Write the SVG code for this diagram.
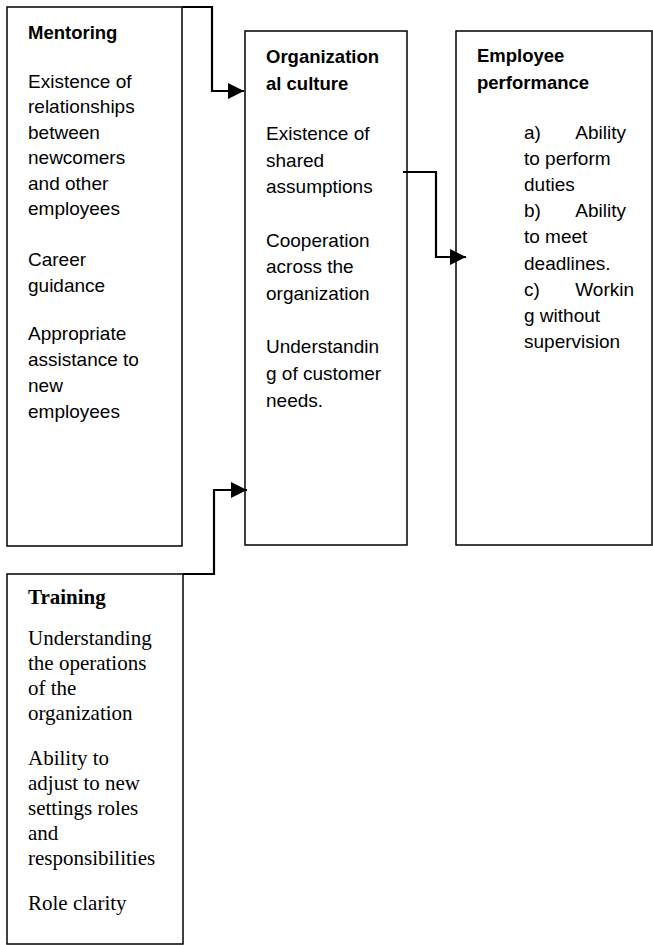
<svg xmlns="http://www.w3.org/2000/svg" width="653" height="945" viewBox="0 0 653 945">
<style>
.box{fill:#fff;stroke:#000;stroke-width:1.5}
.s{font-family:"Liberation Sans",Arial,sans-serif;font-size:19px;fill:#000}
.sb{font-family:"Liberation Sans",Arial,sans-serif;font-size:18.5px;font-weight:bold;fill:#000}
.t{font-family:"Liberation Serif","Times New Roman",serif;font-size:21px;fill:#000}
.tb{font-family:"Liberation Serif","Times New Roman",serif;font-size:21px;font-weight:bold;fill:#000}
.c{fill:none;stroke:#000;stroke-width:2.2}
</style>
<defs>
<marker id="ah" markerUnits="userSpaceOnUse" markerWidth="17" markerHeight="17" refX="16" refY="8" orient="auto">
<path d="M0,0 L16,8 L0,16 Z" fill="#000"/>
</marker>
</defs>
<g id="mentoring">
<rect class="box" x="7" y="7" width="175" height="539"/>
<text class="sb" x="28" y="39">Mentoring</text>
<text class="s" x="28" y="88">Existence of</text>
<text class="s" x="28" y="113">relationships</text>
<text class="s" x="28" y="139">between</text>
<text class="s" x="28" y="164">newcomers</text>
<text class="s" x="28" y="190">and other</text>
<text class="s" x="28" y="215">employees</text>
<text class="s" x="28" y="266">Career</text>
<text class="s" x="28" y="292">guidance</text>
<text class="s" x="28" y="340">Appropriate</text>
<text class="s" x="28" y="366">assistance to</text>
<text class="s" x="28" y="392">new</text>
<text class="s" x="28" y="418">employees</text>
</g>
<g id="culture">
<rect class="box" x="245" y="31" width="162" height="514"/>
<text class="sb" x="266" y="63">Organization</text>
<text class="sb" x="266" y="90">al culture</text>
<text class="s" x="266" y="140">Existence of</text>
<text class="s" x="266" y="167">shared</text>
<text class="s" x="266" y="193">assumptions</text>
<text class="s" x="266" y="247">Cooperation</text>
<text class="s" x="266" y="273">across the</text>
<text class="s" x="266" y="300">organization</text>
<text class="s" x="266" y="353">Understandin</text>
<text class="s" x="266" y="380">g of customer</text>
<text class="s" x="266" y="407">needs.</text>
</g>
<g id="performance">
<rect class="box" x="456" y="31" width="196" height="514"/>
<text class="sb" x="477" y="62">Employee</text>
<text class="sb" x="477" y="89">performance</text>
<text class="s" x="524" y="139">a)</text>
<text class="s" x="626" y="139" text-anchor="end">Ability</text>
<text class="s" x="524" y="165">to perform</text>
<text class="s" x="524" y="191">duties</text>
<text class="s" x="524" y="217">b)</text>
<text class="s" x="626" y="217" text-anchor="end">Ability</text>
<text class="s" x="524" y="243">to meet</text>
<text class="s" x="524" y="270">deadlines.</text>
<text class="s" x="524" y="296">c)</text>
<text class="s" x="634" y="296" text-anchor="end">Workin</text>
<text class="s" x="524" y="322">g without</text>
<text class="s" x="524" y="348">supervision</text>
</g>
<g id="training">
<rect class="box" x="7" y="574" width="176" height="370"/>
<text class="tb" x="28" y="604">Training</text>
<text class="t" x="28" y="645">Understanding</text>
<text class="t" x="28" y="670">the operations</text>
<text class="t" x="28" y="695">of the</text>
<text class="t" x="28" y="720">organization</text>
<text class="t" x="28" y="765">Ability to</text>
<text class="t" x="28" y="790">adjust to new</text>
<text class="t" x="28" y="815">settings roles</text>
<text class="t" x="28" y="840">and</text>
<text class="t" x="28" y="865">responsibilities</text>
<text class="t" x="28" y="910">Role clarity</text>
</g>
<g id="connectors">
<path class="c" d="M182,7 H212 V91 H244" marker-end="url(#ah)"/>
<path class="c" d="M403,172 H436 V257 H466" marker-end="url(#ah)"/>
<path class="c" d="M183,574 H214 V490 H247" marker-end="url(#ah)"/>
</g>
</svg>
